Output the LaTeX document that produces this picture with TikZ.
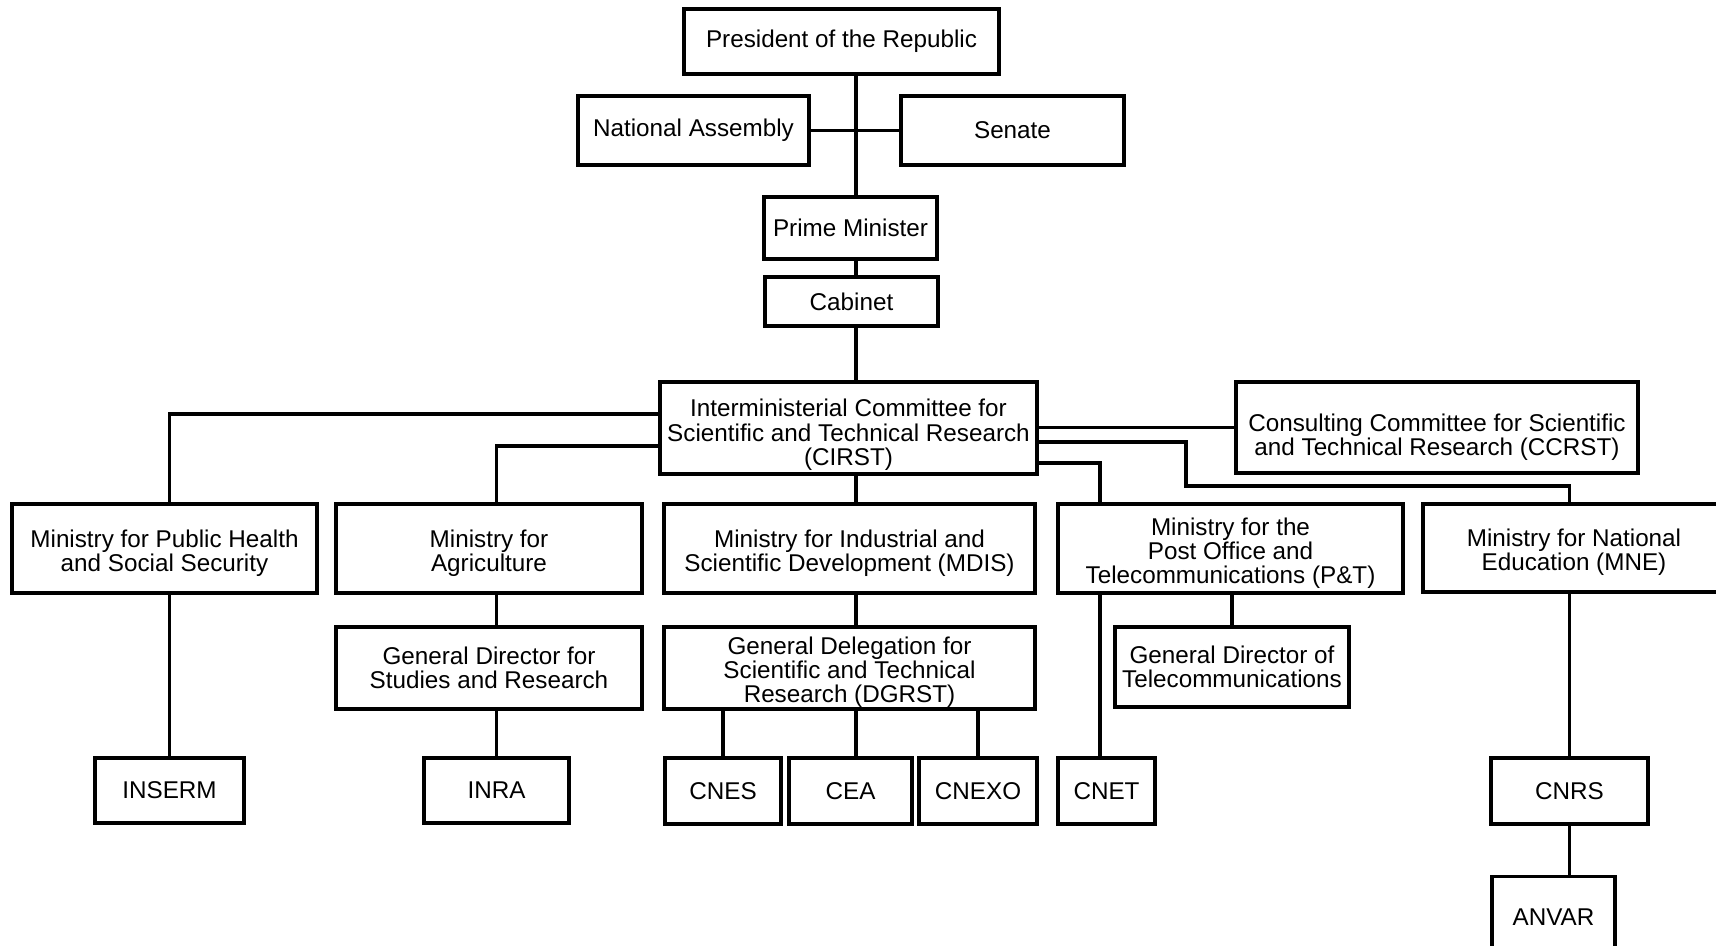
\documentclass[tikz,border=0pt]{standalone}
\usepackage{fontspec}
\setmainfont{Liberation Sans}
\begin{document}
\begin{tikzpicture}[
    orgbox/.style={draw, line width=1.8pt, align=center, inner sep=0pt,
      font=\fontsize{13.8}{13.7}\selectfont},
    link/.style={line width=1.8pt}]
    \def\x{0.02}
    \def\y{-0.02}
    \def\tpad#1{\rule{0pt}{#1pt}}
    \useasboundingbox (0,0) rectangle (1716*\x, 946*\y);
    % top of the state
    \node[orgbox, minimum width=315*\x cm, minimum height=65*\x cm] (A0_0) at (841.5*\x, 41.5*\y) {President of the Republic};
    \node[orgbox, minimum width=231*\x cm, minimum height=69*\x cm] (A1_0) at (693.5*\x, 130.5*\y) {National Assembly};
    \node[orgbox, minimum width=223*\x cm, minimum height=69*\x cm] (A1_1) at (1012.5*\x, 130.5*\y) {Senate};
    \node[orgbox, minimum width=173*\x cm, minimum height=62*\x cm] (A2_0) at (850.5*\x, 228*\y) {Prime Minister};
    \node[orgbox, minimum width=173*\x cm, minimum height=49*\x cm] (A3_0) at (851.5*\x, 301.5*\y) {Cabinet};
    \node[orgbox, minimum width=377*\x cm, minimum height=92*\x cm] (A4_0) at (848.5*\x, 428*\y) {\tpad{17.7}Interministerial Committee for\\Scientific and Technical Research\\(CIRST)};
    \node[orgbox, minimum width=402*\x cm, minimum height=91*\x cm] (A4_1) at (1437*\x, 427.5*\y) {\tpad{21.5}Consulting Committee for Scientific\\and Technical Research (CCRST)};
    % ministries
    \node[orgbox, minimum width=305*\x cm, minimum height=89*\x cm] (A5_0) at (164.5*\x, 548.5*\y) {\tpad{15.3}Ministry for Public Health\\and Social Security};
    \node[orgbox, minimum width=306*\x cm, minimum height=89*\x cm] (A5_1) at (489*\x, 548.5*\y) {\tpad{15.3}Ministry for\\Agriculture};
    \node[orgbox, minimum width=371*\x cm, minimum height=89*\x cm] (A5_2) at (849.5*\x, 548.5*\y) {\tpad{15.3}Ministry for Industrial and\\Scientific Development (MDIS)};
    \node[orgbox, minimum width=345*\x cm, minimum height=89*\x cm] (A5_3) at (1230.5*\x, 548.5*\y) {\tpad{15.3}Ministry for the\\Post Office and\\Telecommunications (P\&T)};
    \node[orgbox, minimum width=307*\x cm, minimum height=88*\x cm] (A5_4) at (1576.5*\x, 548*\y) {};
    \node[align=center, inner sep=0pt, font=\fontsize{13.8}{13.7}\selectfont] (A5_4t) at (1574*\x, 552*\y) {Ministry for National\\Education (MNE)};
    \node[orgbox, minimum width=306*\x cm, minimum height=82*\x cm] (A6_1) at (489*\x, 668*\y) {General Director for\\Studies and Research};
    \node[orgbox, minimum width=371*\x cm, minimum height=82*\x cm] (A6_2) at (849.5*\x, 668*\y) {\tpad{15}General Delegation for\\Scientific and Technical\\Research (DGRST)};
    \node[orgbox, minimum width=234*\x cm, minimum height=80*\x cm] (A6_3) at (1232*\x, 667*\y) {General Director of\\Telecommunications};
    % agencies
    \node[orgbox, minimum width=149*\x cm, minimum height=65*\x cm] (A7_0) at (169.5*\x, 790.5*\y) {INSERM};
    \node[orgbox, minimum width=145*\x cm, minimum height=65*\x cm] (A7_1) at (496.5*\x, 790.5*\y) {INRA};
    \node[orgbox, minimum width=116*\x cm, minimum height=66*\x cm] (A7_2) at (723*\x, 791*\y) {CNES};
    \node[orgbox, minimum width=123*\x cm, minimum height=66*\x cm] (A7_3) at (850.5*\x, 791*\y) {CEA};
    \node[orgbox, minimum width=118*\x cm, minimum height=66*\x cm] (A7_4) at (978*\x, 791*\y) {CNEXO};
    \node[orgbox, minimum width=97*\x cm, minimum height=66*\x cm] (A7_5) at (1106.5*\x, 791*\y) {CNET};
    \node[orgbox, minimum width=157*\x cm, minimum height=66*\x cm] (A7_6) at (1569.5*\x, 791*\y) {CNRS};
    \node[orgbox, minimum width=123*\x cm, minimum height=81*\x cm] (A8_6) at (1553.5*\x, 917*\y) {ANVAR};
    \coordinate (spine) at (856*\x, 0);
    \coordinate (net) at (1100*\x, 0);
    \coordinate (edu) at (1186*\x, 486*\y);
    % main line
    \draw[link] (A0_0.south -| spine) -- (A2_0.north -| spine);
    \draw[link] (A1_0.east) -- (A1_1.west);
    \draw[link] (A2_0.south -| spine) -- (A3_0.north -| spine);
    \draw[link] (A3_0.south -| spine) -- (A4_0.north -| spine);
    \draw[link] (A4_0.south -| spine) -- (A5_2.north -| spine);
    \draw[link] (A5_2.south -| spine) -- (A6_2.north -| spine);
    \draw[link] (A6_2.south -| spine) -- (A7_3.north -| spine);
    \draw[link] (A6_2.south -| A7_2.north) -- (A7_2.north);
    \draw[link] (A6_2.south -| A7_4.north) -- (A7_4.north);
    % left side
    \draw[link] ([yshift=14*\x cm]A4_0.west) -| (A7_0.north |- A5_0.north);
    \draw[link] (A5_0.south -| A7_0.north) -- (A7_0.north);
    \draw[link] ([yshift=-18*\x cm]A4_0.west) -| (A7_1.north |- A5_1.north);
    \draw[link] (A5_1.south -| A7_1.north) -- (A6_1.north -| A7_1.north);
    \draw[link] (A6_1.south -| A7_1.north) -- (A7_1.north);
    % right side
    \draw[link] (A4_0.east |- A4_1.west) -- (A4_1.west);
    \draw[link] ([yshift=-14*\x cm]A4_0.east) -| (edu) -| (A5_4.north -| A7_6.north);
    \draw[link] (A5_4.south -| A7_6.north) -- (A7_6.north);
    \draw[link] (A7_6.south) -- (A7_6.south |- A8_6.north);
    \draw[link] ([yshift=-35*\x cm]A4_0.east) -| (A5_3.north -| net);
    \draw[link] (A5_3.south -| net) -- (A7_5.north -| net);
    \draw[link] (A5_3.south -| A6_3.north) -- (A6_3.north);
\end{tikzpicture}
\end{document}
